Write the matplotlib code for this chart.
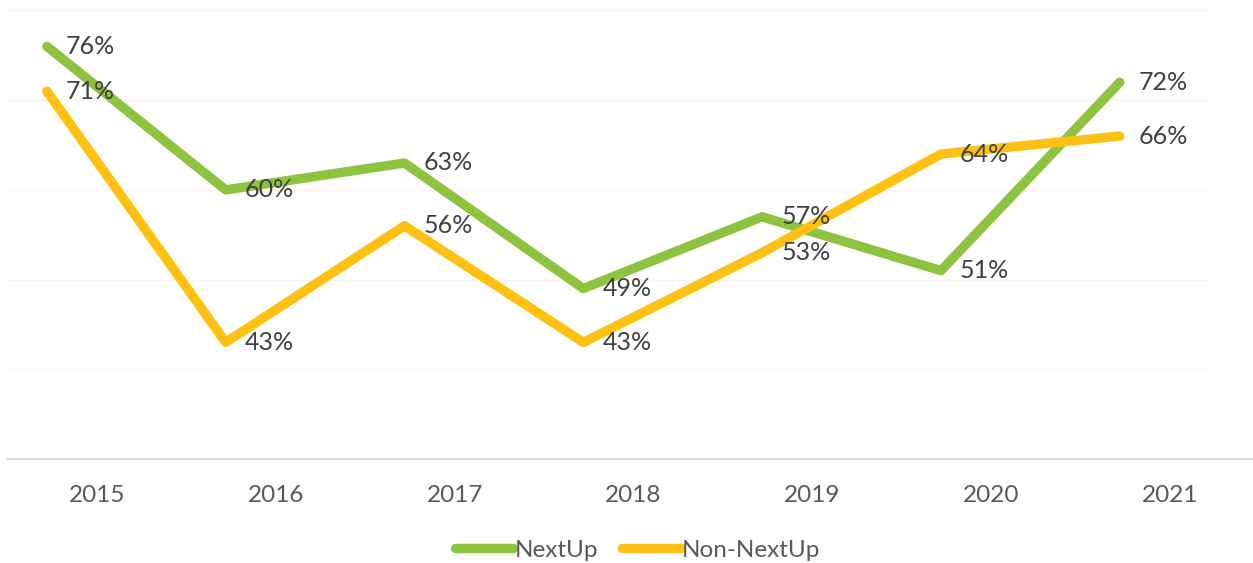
import matplotlib
matplotlib.use("Agg")
import matplotlib.pyplot as plt
from matplotlib.lines import Line2D

years = ["2015", "2016", "2017", "2018", "2019", "2020", "2021"]
nextup = [76, 60, 63, 49, 57, 51, 72]
non_nextup = [71, 43, 56, 43, 53, 64, 66]

green = "#8DC33F"
gold = "#FFC111"

plt.rcParams["font.family"] = ["Lato", "DejaVu Sans"]

fig = plt.figure(figsize=(12.53, 5.63), dpi=100)
W, H = 1253, 563
ax = fig.add_axes([7 / W, (H - 459) / H, (1209 - 7) / W, (459 - 10.5) / H])

# Excel draws the points a bit left of the category labels
shift = -0.28
xs = [i + shift for i in range(len(years))]

ax.plot(xs, nextup, color=green, lw=6.8, solid_capstyle="round",
        solid_joinstyle="round", label="NextUp", zorder=3)
ax.plot(xs, non_nextup, color=gold, lw=6.8, solid_capstyle="round",
        solid_joinstyle="round", label="Non-NextUp", zorder=4)

for x, v in zip(xs, nextup):
    ax.annotate(f"{v}%", (x, v), xytext=(19, 0), textcoords="offset pixels",
                va="center", ha="left", fontsize=18, color="#404040", zorder=5)
for x, v in zip(xs, non_nextup):
    ax.annotate(f"{v}%", (x, v), xytext=(19, 0), textcoords="offset pixels",
                va="center", ha="left", fontsize=18, color="#404040", zorder=5)

ax.set_xlim(-0.503, 6.219)
ax.set_ylim(30, 80)
ax.set_yticks([40, 50, 60, 70, 80])
ax.yaxis.grid(True, color="#FBF4EC", lw=1)
ax.set_axisbelow(True)
ax.set_yticklabels([])
ax.tick_params(axis="y", length=0)
for g in ax.get_ygridlines():
    g.set_clip_on(False)

ax.set_xticks(range(len(years)))
ax.set_xticklabels(years, fontsize=17.5, color="#595959")
ax.tick_params(axis="x", length=0, pad=19)

for s in ax.spines.values():
    s.set_visible(False)

# category axis line runs to the right edge
fig.add_artist(Line2D([8 / W, 1.0], [(H - 459) / H] * 2, color="#D9D9D9", lw=1.5))

leg = fig.legend(loc="center", bbox_to_anchor=(0.509, (H - 550) / H), ncol=2,
                 frameon=False, fontsize=17.5, handlelength=2.4,
                 handletextpad=0.05, columnspacing=1.0)
for t in leg.get_texts():
    t.set_color("#595959")
for h in leg.legend_handles:
    h.set_solid_capstyle("round")

fig.savefig("out.png", dpi=100, facecolor="white")
